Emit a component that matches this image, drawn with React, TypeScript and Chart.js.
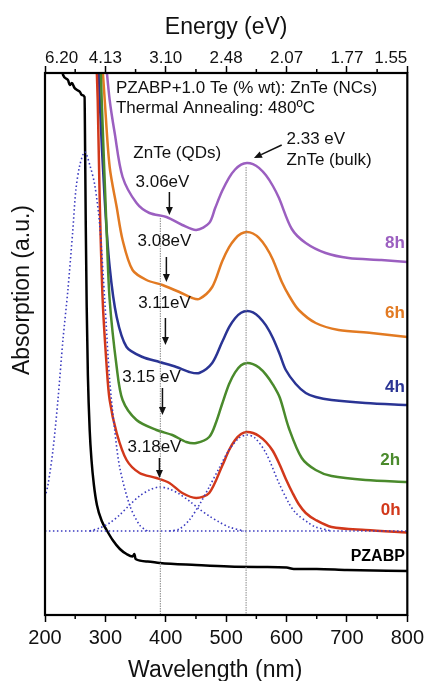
import { useEffect, useRef } from 'react';
import { Chart, registerables } from 'chart.js';

Chart.register(...registerables);

// ---- axis ticks ----
const wavelengthTicks = [200, 300, 400, 500, 600, 700, 800];
const energyTickLabels = ['6.20', '4.13', '3.10', '2.48', '2.07', '1.77', '1.55'];
const minorTicks = [250, 350, 450, 550, 650, 750];

// ---- spectra: [wavelength nm, absorption a.u.] ----
const pzabp: [number, number][] = [
  [222, 57.5], [230, 54.0], [238, 53.5], [241, 53.0], [244.5, 53.2], [249, 52.7], [253, 52.5],
  [258, 52.3], [261, 52.0], [265.5, 51.8], [266.5, 46.0], [267.5, 39.0], [269, 31.0], [271, 24.0],
  [274, 18.5], [277, 15.5], [281, 13.0], [286, 11.0], [294, 9.4], [302, 8.5], [312, 7.5],
  [324, 6.6], [335, 6.1], [345, 5.85], [348, 6.1], [350, 5.6], [370, 5.35], [390, 5.2],
  [450, 5.0], [505, 4.85], [560, 4.8], [600, 4.75], [612, 4.6], [650, 4.6], [700, 4.5], [800, 4.4],
];
const anneal0h: [number, number][] = [
  [284.5, 56.5], [287.3, 51.5], [290.6, 41.5], [295.5, 31.5], [302.2, 24.8], [307.1, 21.5],
  [318.7, 18.2], [335.1, 15.5], [356.6, 14.2], [384.6, 13.7], [406.0, 13.2], [427.4, 12.2],
  [450.5, 11.7], [471.9, 12.2], [493.3, 14.9], [504.9, 16.5], [514.8, 17.5], [524.7, 18.1],
  [534.5, 18.3], [544.4, 18.2], [554.3, 17.9], [565.9, 17.3], [577.4, 16.4], [588.9, 15.0],
  [598.8, 13.6], [610.0, 12.2], [620.0, 11.1], [631.8, 10.2], [648.3, 9.5], [674.6, 8.8],
  [730.7, 8.5], [800, 8.25],
];
const anneal2h: [number, number][] = [
  [291.5, 56.5], [293.9, 51.5], [302.2, 38.2], [307.1, 31.5], [318.7, 24.8], [328.5, 21.5],
  [351.6, 19.5], [384.6, 18.5], [410.9, 18.0], [434.0, 17.3], [450.5, 17.2], [471.9, 17.8],
  [483.5, 19.3], [493.3, 21.1], [504.9, 23.1], [514.8, 24.26], [524.7, 24.97], [534.5, 25.2],
  [544.4, 25.08], [554.3, 24.74], [565.9, 24.04], [577.4, 23.04], [588.9, 21.72], [603.8, 18.7],
  [625.2, 15.7], [648.3, 14.5], [674.6, 13.9], [730.7, 13.5], [800, 13.3],
];
const anneal4h: [number, number][] = [
  [289.0, 56.5], [290.6, 51.5], [298.9, 41.5], [307.1, 34.8], [318.7, 29.8], [335.1, 26.8],
  [361.5, 25.8], [389.5, 25.3], [417.5, 24.8], [439.0, 24.3], [455.4, 24.2], [476.9, 25.2],
  [493.3, 27.3], [504.9, 28.78], [514.8, 29.68], [524.7, 30.22], [534.5, 30.4], [544.4, 30.26],
  [554.3, 29.82], [565.9, 28.96], [577.4, 27.7], [588.9, 26.05], [598.8, 24.5], [615.3, 23.1],
  [631.8, 22.2], [648.3, 21.8], [674.6, 21.5], [730.7, 21.2], [800, 21.0],
];
const anneal6h: [number, number][] = [
  [294.0, 56.0], [298.9, 51.5], [307.1, 44.8], [318.7, 40.8], [328.5, 37.5], [345.0, 34.5],
  [368.1, 33.5], [394.5, 33.0], [422.5, 32.3], [443.9, 31.7], [455.4, 31.6], [476.9, 32.8],
  [493.3, 35.36], [504.9, 36.78], [514.8, 37.62], [524.7, 38.13], [534.5, 38.3], [544.4, 38.15],
  [554.3, 37.71], [565.9, 36.82], [577.4, 35.53], [592.2, 33.3], [605.4, 31.8], [620.2, 30.5],
  [648.3, 29.2], [686.2, 28.5], [740.5, 28.2], [800, 27.8],
];
const anneal8h: [number, number][] = [
  [299.0, 56.5], [307.1, 51.5], [315.4, 48.2], [328.5, 43.8], [351.6, 41.2], [373.0, 40.2],
  [401.1, 39.8], [427.4, 39.0], [450.5, 38.5], [471.9, 39.2], [481.8, 40.7], [493.3, 42.39],
  [504.9, 43.74], [514.8, 44.55], [524.7, 45.04], [534.5, 45.2], [544.4, 45.08], [554.3, 44.71],
  [565.9, 43.97], [577.4, 42.9], [587.3, 41.72], [608.7, 38.6], [631.8, 37.2], [664.7, 36.2],
  [702.6, 35.7], [757.0, 35.5], [800, 35.3],
];
// Gaussian deconvolution of the 0h spectrum (dotted)
const fitUV: [number, number][] = [
  [200, 11.8], [204.9, 13.0], [213.2, 16.5], [221.4, 21.5], [229.7, 27.5], [237.9, 32.5],
  [246.1, 38.5], [251.1, 42.5], [257.7, 45.0], [265.9, 46.3], [274.2, 45.0], [282.4, 43.0],
  [290.6, 39.0], [298.9, 31.5], [307.1, 23.5], [315.4, 18.5], [323.6, 14.8], [340.1, 11.0],
  [356.6, 9.0], [369.7, 8.4],
];
const fitQD: [number, number][] = [
  [274.2, 8.4], [290.6, 8.7], [307.1, 9.2], [323.6, 10.0], [340.1, 11.0], [356.6, 11.9],
  [373.0, 12.5], [389.5, 12.8], [406.0, 12.6], [422.5, 12.1], [439.0, 11.4], [455.4, 10.6],
  [471.9, 9.9], [488.4, 9.3], [504.8, 8.8], [529.6, 8.4],
];
const fitBulk: [number, number][] = [
  [406.0, 8.4], [422.5, 8.6], [439.0, 9.5], [455.4, 11.0], [471.9, 12.8], [488.4, 14.7],
  [504.8, 16.5], [521.4, 17.7], [534.5, 18.0], [547.7, 17.7], [565.9, 16.2], [587.3, 13.2],
  [603.8, 11.2], [615.3, 10.2], [636.7, 9.2], [648.3, 8.8], [674.6, 8.4],
];
const fitBaseline: [number, number][] = [[200, 8.4], [800, 8.4]];
// reference markers
const qdMarker: [number, number][] = [[391, 39.7], [391, 0]];
const bulkMarker: [number, number][] = [[533, 44.8], [533, 0]];

const Y_MAX = 54.2;

const toXY = (a: [number, number][]) => a.map(([x, y]) => ({ x, y }));

const FONT = '"Liberation Sans", Arial, sans-serif';

const texts = [
  { t: 'PZABP+1.0 Te (% wt): ZnTe (NCs)', x: 317.5, y: 52.7, align: 'left', size: 17, bold: false, color: '#111' },
  { t: 'Thermal Annealing: 480ºC', x: 317.5, y: 50.7, align: 'left', size: 17, bold: false, color: '#111' },
  { t: 'ZnTe (QDs)', x: 419, y: 46.2, align: 'center', size: 17, bold: false, color: '#111' },
  { t: '2.33 eV', x: 600, y: 47.6, align: 'left', size: 17, bold: false, color: '#111' },
  { t: 'ZnTe (bulk)', x: 600, y: 45.5, align: 'left', size: 17, bold: false, color: '#111' },
  { t: '3.06eV', x: 394.5, y: 43.3, align: 'center', size: 17, bold: false, color: '#111' },
  { t: '3.08eV', x: 397.8, y: 37.4, align: 'center', size: 17, bold: false, color: '#111' },
  { t: '3.11eV', x: 397.8, y: 31.2, align: 'center', size: 17, bold: false, color: '#111' },
  { t: '3.15 eV', x: 376.3, y: 23.8, align: 'center', size: 17, bold: false, color: '#111' },
  { t: '3.18eV', x: 381.3, y: 16.8, align: 'center', size: 17, bold: false, color: '#111' },
  { t: '8h', x: 796, y: 37.2, align: 'right', size: 17, bold: true, color: '#9b5fc0' },
  { t: '6h', x: 796, y: 30.2, align: 'right', size: 17, bold: true, color: '#e27a22' },
  { t: '4h', x: 796, y: 22.8, align: 'right', size: 17, bold: true, color: '#2a3494' },
  { t: '2h', x: 788, y: 15.5, align: 'right', size: 17, bold: true, color: '#4a8a2c' },
  { t: '0h', x: 789, y: 10.5, align: 'right', size: 17, bold: true, color: '#d2381b' },
  { t: 'PZABP', x: 796, y: 5.8, align: 'right', size: 16, bold: true, color: '#000' },
];

const arrows = [
  { x1: 406, y1: 42.3, x2: 406, y2: 40.0 },
  { x1: 401, y1: 35.8, x2: 401, y2: 33.3 },
  { x1: 399.4, y1: 29.7, x2: 399.4, y2: 27.0 },
  { x1: 394.5, y1: 22.7, x2: 394.5, y2: 20.0 },
  { x1: 389.5, y1: 15.7, x2: 389.5, y2: 13.7 },
  { x1: 592, y1: 47.0, x2: 546, y2: 45.7 },
];

const overlay = {
  id: 'overlay',
  afterDatasetsDraw(chart: any) {
    const { ctx, chartArea: a, scales } = chart;
    const px = (v: number) => scales.x.getPixelForValue(v);
    const py = (v: number) => scales.y.getPixelForValue(v);
    ctx.save();
    // frame
    ctx.strokeStyle = '#000';
    ctx.lineWidth = 2.2;
    ctx.strokeRect(a.left, a.top, a.right - a.left, a.bottom - a.top);
    // minor ticks
    ctx.lineWidth = 1.5;
    for (const m of minorTicks) {
      const x = px(m);
      ctx.beginPath();
      ctx.moveTo(x, a.bottom);
      ctx.lineTo(x, a.bottom + 4);
      ctx.moveTo(x, a.top);
      ctx.lineTo(x, a.top - 4);
      ctx.stroke();
    }
    // annotations
    ctx.textBaseline = 'middle';
    for (const t of texts) {
      ctx.font = `${t.bold ? 'bold ' : ''}${t.size}px ${FONT}`;
      ctx.fillStyle = t.color;
      ctx.textAlign = t.align;
      ctx.fillText(t.t, px(t.x), py(t.y));
    }
    // arrows
    ctx.strokeStyle = '#111';
    ctx.fillStyle = '#111';
    ctx.lineWidth = 1.5;
    for (const ar of arrows) {
      const x1 = px(ar.x1), y1 = py(ar.y1), x2 = px(ar.x2), y2 = py(ar.y2);
      const ang = Math.atan2(y2 - y1, x2 - x1);
      const L = 8, W = 3.5;
      const bx = x2 - L * Math.cos(ang), by = y2 - L * Math.sin(ang);
      ctx.beginPath();
      ctx.moveTo(x1, y1);
      ctx.lineTo(bx, by);
      ctx.stroke();
      ctx.beginPath();
      ctx.moveTo(x2, y2);
      ctx.lineTo(bx + W * Math.sin(ang), by - W * Math.cos(ang));
      ctx.lineTo(bx - W * Math.sin(ang), by + W * Math.cos(ang));
      ctx.closePath();
      ctx.fill();
    }
    // axis titles
    ctx.fillStyle = '#111';
    ctx.font = `23px ${FONT}`;
    ctx.textAlign = 'center';
    ctx.fillText('Energy (eV)', (a.left + a.right) / 2, 28);
    ctx.fillText('Wavelength (nm)', (a.left + a.right) / 2 - 11, 671);
    ctx.translate(23, 290);
    ctx.rotate(-Math.PI / 2);
    ctx.fillText('Absorption (a.u.)', 0, 0);
    ctx.restore();
  },
};

export default function App() {
  const ref = useRef<HTMLCanvasElement | null>(null);
  useEffect(() => {
    if (!ref.current) return;
    const smooth = (data: [number, number][], color: string, width = 2.5) => ({
      data: toXY(data),
      borderColor: color,
      borderWidth: width,
      pointRadius: 0,
      fill: false,
      tension: 0.3,
    });
    const mono = (data: [number, number][], color: string, width = 2.5) => ({
      data: toXY(data),
      borderColor: color,
      borderWidth: width,
      pointRadius: 0,
      fill: false,
      cubicInterpolationMode: 'monotone' as const,
    });
    const dotted = (data: [number, number][]) => ({
      ...smooth(data, '#3b3bc0', 1.6),
      borderDash: [1.5, 2.5],
    });
    const marker = (data: [number, number][]) => ({
      data: toXY(data),
      borderColor: '#8a8a8a',
      borderWidth: 1,
      borderDash: [1.5, 1],
      pointRadius: 0,
      fill: false,
      tension: 0,
    });
    const chart = new Chart(ref.current, {
      type: 'line',
      data: {
        datasets: [
          marker(qdMarker),
          marker(bulkMarker),
          dotted(fitBaseline),
          dotted(fitUV),
          dotted(fitQD),
          dotted(fitBulk),
          mono(pzabp, '#000000'),
          smooth(anneal0h, '#d2381b'),
          smooth(anneal2h, '#4a8a2c'),
          smooth(anneal4h, '#2a3494'),
          smooth(anneal6h, '#e27a22'),
          smooth(anneal8h, '#9b5fc0'),
        ],
      },
      options: {
        animation: false,
        responsive: false,
        layout: { padding: { left: 45, right: 19, top: 0, bottom: 0 } },
        plugins: { legend: { display: false }, tooltip: { enabled: false } },
        scales: {
          x: {
            type: 'linear',
            position: 'bottom',
            min: 200,
            max: 800,
            afterBuildTicks: (s: any) => { s.ticks = wavelengthTicks.map((v) => ({ value: v })); },
            afterFit: (s: any) => { s.height = 66; },
            ticks: {
              autoSkip: false,
              maxRotation: 0,
              padding: 4,
              color: '#111',
              font: { size: 20, family: FONT },
              callback: (v: any) => String(v),
            },
            grid: { drawOnChartArea: false, drawTicks: true, tickLength: 7, tickColor: '#000', tickWidth: 1.5 },
            border: { display: false },
          },
          x2: {
            type: 'linear',
            position: 'top',
            min: 200,
            max: 800,
            afterBuildTicks: (s: any) => { s.ticks = wavelengthTicks.map((v) => ({ value: v })); },
            afterFit: (s: any) => { s.height = 73; },
            ticks: {
              autoSkip: false,
              maxRotation: 0,
              align: 'inner',
              padding: -3,
              color: '#111',
              font: { size: 17, family: FONT },
              callback: (v: any) => energyTickLabels[wavelengthTicks.indexOf(Number(v))] ?? '',
            },
            grid: { drawOnChartArea: false, drawTicks: true, tickLength: 7, tickColor: '#000', tickWidth: 1.5 },
            border: { display: false },
          },
          y: { display: false, min: 0, max: Y_MAX },
        },
      },
      plugins: [overlay],
    } as any);
    return () => chart.destroy();
  }, []);
  return (
    <div style={{ position: 'absolute', left: 0, top: 0, width: 428, height: 681, background: '#fff' }}>
      <canvas ref={ref} width={428} height={681} />
    </div>
  );
}
